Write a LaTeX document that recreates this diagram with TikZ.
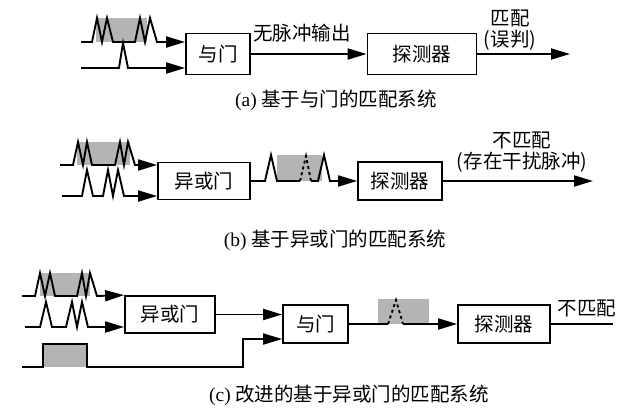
\documentclass[tikz,border=0pt]{standalone}
\usepackage{fontspec}
\setmainfont{Noto Sans CJK SC}
\newfontfamily\latin{Liberation Serif}
\usetikzlibrary{arrows.meta,positioning,calc}
\definecolor{shade}{HTML}{B4B4B4}
\tikzset{gate/.style={draw,line width=1.8pt,fill=white,inner sep=0pt},wire/.style={draw,line width=1.9pt},pulse/.style={fill=shade},every picture/.style={>={Triangle[length=19pt,width=11pt]}}}

\begin{document}
\begin{tikzpicture}[x=1pt,y=-1pt,font=\fontsize{19.5}{21}\selectfont]
\useasboundingbox (0,0) rectangle (623,410);
% (a) Matching with an AND gate.
\node[gate,minimum width=64pt,minimum height=41pt] (andA) at (218,54) {与门};
\node[gate,minimum width=109pt,minimum height=41pt] (detA) at (422,54) {探测器};
\coordinate (inA1) at (81,42);
\coordinate (inA2) at (81,68);
\coordinate (outA) at (570,54);
\fill[pulse] (96,18) rectangle (147,42);
\draw[wire,->] (inA1)--(92,42)--(97,18)--(102,42)--(107,18)--(113,42)--(135,42)--(140,18)--(145,42)--(150,18)--(157,42)--(andA.west |- inA1);
\draw[wire,->] (inA2)--(119,68)--(123,43)--(128,68)--(andA.west |- inA2);
\draw[wire,->] (andA.east)--(detA.west);
\node (nopulse) at (302,33) {无脉冲输出};
\draw[wire,->] (detA.east)--(outA);
\node[align=center] (matchA) at (510,30) {匹配\\(误判)};
\node (capA) at (336,100) {{\latin (a)} 基于与门的匹配系统};
% (b) Matching with an XOR gate.
\node[gate,minimum width=92pt,minimum height=37pt] (xorB) at (204,181) {异或门};
\node[gate,minimum width=84pt,minimum height=38pt] (detB) at (400,181) {探测器};
\coordinate (inB1) at (60,165);
\coordinate (inB2) at (62,196);
\coordinate (outB) at (593,181);
\fill[pulse] (77,142) rectangle (130,165);
\fill[pulse] (277,155) rectangle (322,181);
\draw[wire,->] (inB1)--(73,165)--(78,142)--(83,165)--(87,142)--(92,165)--(115,165)--(120,142)--(124,165)--(128,142)--(135,165)--(xorB.west |- inB1);
\draw[wire,->] (inB2)--(82,196)--(87,170)--(93,196)--(103,196)--(108,170)--(113,196)--(118,170)--(124,196)--(xorB.west |- inB2);
\draw[wire] (xorB.east)--(265,181)--(271,155)--(277,181)--(300,181);
\draw[wire,dashed] (300,181)--(306,156)--(311,181);
\draw[wire,->] (311,181)--(318,181)--(324,155)--(330,181)--(detB.west);
\draw[wire,->] (detB.east)--(outB);
\node[align=center] (mismatchB) at (522,152) {不匹配\\(存在干扰脉冲)};
\node (capB) at (335,240) {{\latin (b)} 基于异或门的匹配系统};
% (c) Improved XOR system with an enable window.
\node[gate,minimum width=90pt,minimum height=37pt] (xorC) at (170,314.5) {异或门};
\node[gate,minimum width=65pt,minimum height=38pt] (andC) at (315.5,324) {与门};
\node[gate,minimum width=92pt,minimum height=38pt] (detC) at (504,324) {探测器};
\coordinate (inC1) at (22,296);
\coordinate (inC2) at (25,327);
\coordinate (inC3) at (22,367);
\coordinate (bend) at (243,339);
\coordinate (outC) at (613,324);
\fill[pulse] (40,273) rectangle (90,296);
\fill[pulse] (43,344) rectangle (87,367);
\fill[pulse] (378,299) rectangle (429,324);
\draw[wire,->] (inC1)--(35,296)--(40,273)--(45,296)--(50,273)--(55,296)--(77,296)--(82,273)--(86,296)--(90,273)--(97,296)--(xorC.north west);
\draw[wire,->] (inC2)--(40,327)--(46,302)--(52,327)--(66,327)--(72,302)--(77,327)--(82,302)--(88,327)--(xorC.west |- inC2);
\draw[wire,->] (inC3)--(43,367)--(43,344)--(87,344)--(87,367)--(243,367)--(bend)--(andC.west |- bend);
\draw[wire,->] (xorC.east)--(andC.west |- xorC.east);
\draw[wire] (andC.east)--(388,324);
\draw[wire,dashed] (388,324)--(396,300)--(403,324);
\draw[wire,->] (403,324)--(detC.west);
\draw[wire] (detC.east)--(outC);
\node (mismatchC) at (587,308) {不匹配};
\node (capC) at (349,395) {{\latin (c)} 改进的基于异或门的匹配系统};
\end{tikzpicture}
\end{document}
